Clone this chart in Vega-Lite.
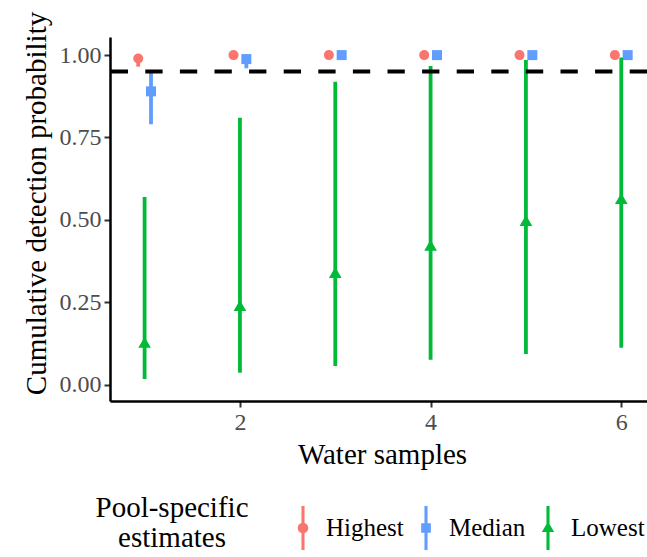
{
  "$schema": "https://vega.github.io/schema/vega-lite/v6.json",
  "width": 537,
  "height": 364,
  "autosize": {"type": "none"},
  "padding": {"left": 110, "top": 37, "right": 0, "bottom": 156},
  "background": "white",
  "config": {
    "view": {"stroke": null},
    "font": "Liberation Serif",
    "axis": {
      "domainColor": "black",
      "domainWidth": 2.5,
      "tickColor": "#333333",
      "tickWidth": 2,
      "tickSize": 6,
      "grid": false,
      "labelFont": "Liberation Serif",
      "labelFontSize": 24,
      "labelColor": "#4D4D4D",
      "titleFont": "Liberation Serif",
      "titleFontSize": 29,
      "titleFontWeight": "normal",
      "titleColor": "black"
    },
    "legend": {
      "labelFont": "Liberation Serif",
      "labelFontSize": 25,
      "labelColor": "black",
      "titleFont": "Liberation Serif",
      "titleFontSize": 29,
      "titleFontWeight": "normal",
      "titleColor": "black"
    }
  },
  "data": {
    "values": [
      {"sample": 1, "estimate": "Highest", "est": 0.99, "lower": 0.965, "upper": 0.998},
      {"sample": 2, "estimate": "Highest", "est": 1.0, "lower": 0.997, "upper": 1.0},
      {"sample": 3, "estimate": "Highest", "est": 1.0, "lower": 1.0, "upper": 1.0},
      {"sample": 4, "estimate": "Highest", "est": 1.0, "lower": 1.0, "upper": 1.0},
      {"sample": 5, "estimate": "Highest", "est": 1.0, "lower": 1.0, "upper": 1.0},
      {"sample": 6, "estimate": "Highest", "est": 1.0, "lower": 1.0, "upper": 1.0},
      {"sample": 1, "estimate": "Median", "est": 0.89, "lower": 0.79, "upper": 0.952},
      {"sample": 2, "estimate": "Median", "est": 0.988, "lower": 0.96, "upper": 1.0},
      {"sample": 3, "estimate": "Median", "est": 1.0, "lower": 0.998, "upper": 1.0},
      {"sample": 4, "estimate": "Median", "est": 1.0, "lower": 1.0, "upper": 1.0},
      {"sample": 5, "estimate": "Median", "est": 1.0, "lower": 1.0, "upper": 1.0},
      {"sample": 6, "estimate": "Median", "est": 1.0, "lower": 1.0, "upper": 1.0},
      {"sample": 1, "estimate": "Lowest", "est": 0.128, "lower": 0.017, "upper": 0.569},
      {"sample": 2, "estimate": "Lowest", "est": 0.24, "lower": 0.036, "upper": 0.81},
      {"sample": 3, "estimate": "Lowest", "est": 0.34, "lower": 0.056, "upper": 0.919},
      {"sample": 4, "estimate": "Lowest", "est": 0.423, "lower": 0.075, "upper": 0.967},
      {"sample": 5, "estimate": "Lowest", "est": 0.498, "lower": 0.093, "upper": 0.985},
      {"sample": 6, "estimate": "Lowest", "est": 0.565, "lower": 0.112, "upper": 0.993}
    ]
  },
  "encoding": {
    "x": {
      "field": "sample",
      "type": "quantitative",
      "scale": {"domain": [0.637, 6.27], "nice": false, "zero": false},
      "axis": {"values": [2, 4, 6], "title": "Water samples", "titlePadding": 6, "labelPadding": 3, "titleX": 272}
    },
    "color": {
      "field": "estimate",
      "type": "nominal",
      "scale": {"domain": ["Highest", "Median", "Lowest"], "range": ["#F8766D", "#619CFF", "#00BA38"]},
      "title": ["Pool-specific", "estimates"],
      "legend": {
        "orient": "none",
        "legendX": -15,
        "legendY": 469,
        "direction": "horizontal",
        "titleOrient": "left",
        "titleAlign": "center",
        "titleLineHeight": 30,
        "titlePadding": -45,
        "symbolSize": 1936,
        "labelOffset": 1,
        "columnPadding": 0,
        "encode": {
          "title": {
            "update": {
              "dy": {"value": -5}
            }
          },
          "symbols": {
            "update": {
              "shape": {"signal": "datum.value === 'Highest' ? 'M-0.07,-1L0.07,-1L0.07,1L-0.07,1ZM-0.24,0A0.24,0.24 0 1,1 0.24,0A0.24,0.24 0 1,1 -0.24,0Z' : datum.value === 'Median' ? 'M-0.07,-1L0.07,-1L0.07,1L-0.07,1ZM-0.22,-0.22L0.22,-0.22L0.22,0.22L-0.22,0.22Z' : 'M-0.07,-1L0.07,-1L0.07,1L-0.07,1ZM0,-0.3L0.28,0.18L-0.28,0.18Z'"},
              "strokeWidth": {"value": 0},
              "opacity": {"value": 1}
            }
          }
        }
      }
    }
  },
  "layer": [
    {
      "transform": [{"filter": "datum.estimate === 'Highest'"}],
      "mark": {"type": "point", "shape": "circle", "filled": true, "opacity": 1, "size": 100, "xOffset": -6.4},
      "encoding": {
        "y": {
          "field": "est",
          "type": "quantitative",
          "scale": {"domain": [-0.05, 1.055], "nice": false, "zero": false},
          "axis": {
            "values": [0, 0.25, 0.5, 0.75, 1],
            "format": ".2f",
            "title": "Cumulative detection probability",
            "titlePadding": 8,
            "labelPadding": 3,
            "titleY": 166
          }
        }
      }
    },
    {
      "transform": [{"filter": "datum.estimate === 'Highest'"}],
      "mark": {"type": "rule", "strokeWidth": 3.8, "xOffset": -6.4},
      "encoding": {
        "y": {"field": "lower", "type": "quantitative"},
        "y2": {"field": "upper"}
      }
    },
    {
      "transform": [{"filter": "datum.estimate === 'Median'"}],
      "mark": {"type": "rule", "strokeWidth": 3.8, "xOffset": 6.4},
      "encoding": {
        "y": {"field": "lower", "type": "quantitative"},
        "y2": {"field": "upper"}
      }
    },
    {
      "transform": [{"filter": "datum.estimate === 'Median'"}],
      "mark": {"type": "point", "shape": "square", "filled": true, "opacity": 1, "size": 100, "xOffset": 6.4},
      "encoding": {
        "y": {"field": "est", "type": "quantitative"}
      }
    },
    {
      "transform": [{"filter": "datum.estimate === 'Lowest'"}],
      "mark": {"type": "rule", "strokeWidth": 3.8},
      "encoding": {
        "y": {"field": "lower", "type": "quantitative"},
        "y2": {"field": "upper"}
      }
    },
    {
      "transform": [{"filter": "datum.estimate === 'Lowest'"}],
      "mark": {"type": "point", "shape": "triangle-up", "filled": true, "opacity": 1, "size": 160},
      "encoding": {
        "y": {"field": "est", "type": "quantitative"}
      }
    },
    {
      "data": {"values": [{"threshold": 0.95}]},
      "mark": {"type": "rule", "color": "black", "strokeWidth": 4, "strokeDash": [17.3, 17.3]},
      "encoding": {
        "y": {"field": "threshold", "type": "quantitative"},
        "x": null,
        "color": null
      }
    }
  ]
}
